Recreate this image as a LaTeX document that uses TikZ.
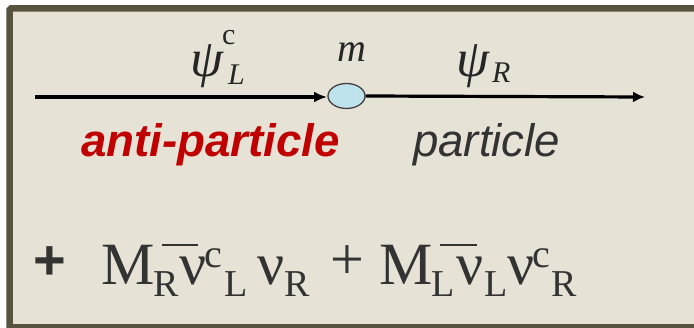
\documentclass[tikz,border=0pt]{standalone}
\usepackage{fontspec}
\setmainfont{Liberation Serif}
\newfontfamily\arialf{Liberation Sans}
\usetikzlibrary{arrows.meta,shapes.geometric}
\definecolor{bgc}{HTML}{E6E2D6}
\definecolor{frame}{HTML}{57533F}
\definecolor{ink}{HTML}{333333}
\definecolor{redt}{HTML}{C00000}
\definecolor{blob}{HTML}{BFE3EC}
\begin{document}
\begin{tikzpicture}[x=1pt,y=-1pt,
  lbl/.style={inner sep=0pt,anchor=base west,text=ink},
  big/.style={lbl,font=\fontsize{60}{60}\selectfont},
  small/.style={lbl,font=\fontsize{38}{38}\selectfont},
  greek/.style={inner sep=0pt,anchor=base west,text=black!85,font=\fontsize{53}{53}\selectfont\itshape},
  gsub/.style={inner sep=0pt,anchor=base west,text=black!85,font=\fontsize{30}{30}\selectfont\itshape},
  word/.style={inner sep=0pt,anchor=base west,font=\arialf\fontsize{45.6}{46}\selectfont\itshape}]
\useasboundingbox (0,0) rectangle (694,328);
\fill[white] (0,0) rectangle (694,328);
\draw[frame,line width=6.5pt,fill=bgc,rounded corners=1.5pt] (9.5,8.5) rectangle (700,327.5);
% line and blob
\coordinate (start) at (35,97);
\coordinate (mid) at (327,97);
\coordinate (end) at (645,97);
\draw[line width=3.2pt,-{Latex[length=13pt,width=11pt]}] (start) -- (mid);
\node[ellipse,draw=black!75,line width=1.3pt,fill=blob,minimum width=37pt,minimum height=25pt,inner sep=0pt] (m) at (346.5,96) {};
\draw[line width=3.2pt,-{Latex[length=12pt,width=11pt]}] (m.east) -- (end);
% labels above
\node[greek] (psiL) at (190,77) {ψ};
\node[gsub,font=\fontsize{30}{30}\selectfont] (csup) at (222,45) {c};
\node[gsub] (Lsub) at (228,85) {L};
\node[greek,font=\fontsize{40}{40}\selectfont\itshape] (mm) at (337,62) {m};
\node[greek] (psiR) at (456,77) {ψ};
\node[gsub] (Rsub) at (492,83) {R};
% words
\node[word,text=redt,font=\arialf\fontsize{45.6}{46}\selectfont\bfseries\itshape] (anti) at (81,157) {anti-particle};
\node[word,text=ink] (part) at (413,157) {particle};
% formula
\node[inner sep=0pt,text=ink,font=\arialf\bfseries\fontsize{56}{56}\selectfont] (p1) at (50,263) {+};
\node[big] (M1) at (101,285) {M};
\node[small] (R1) at (153,297) {R};
\node[big] (nu1) at (179,285) {ν};
\draw[ink,line width=2pt] (162,245) -- (198,245);
\node[small,font=\fontsize{40}{40}\selectfont] (c1) at (204,268) {c};
\node[small] (L1) at (224,297) {L};
\node[big] (nu2) at (257,285) {ν};
\node[small] (R2) at (284,297) {R};
\node[inner sep=0pt,text=ink,font=\fontsize{60}{60}\selectfont] (p2) at (347,263) {+};
\node[big] (M2) at (379,285) {M};
\node[small] (L2) at (431,297) {L};
\draw[ink,line width=2pt] (440,245) -- (477,245);
\node[big] (nu3) at (456,285) {ν};
\node[small] (L3) at (484,297) {L};
\node[big] (nu4) at (507,285) {ν};
\node[small,font=\fontsize{40}{40}\selectfont] (c2) at (532,268) {c};
\node[small] (R3) at (551,297) {R};
\end{tikzpicture}
\end{document}
